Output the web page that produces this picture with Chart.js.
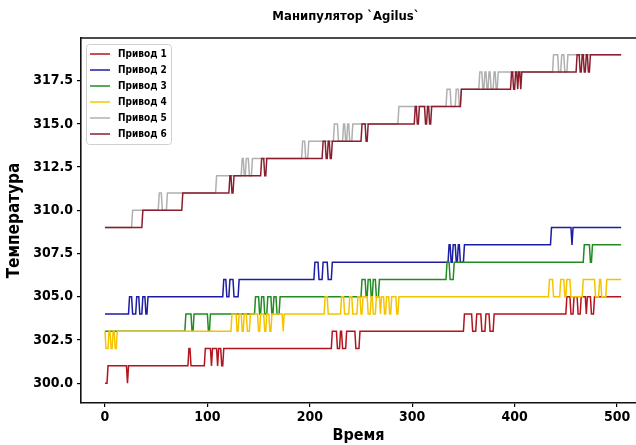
<!DOCTYPE html>
<html>
<head>
<meta charset="utf-8">
<script src="https://cdn.jsdelivr.net/npm/chart.js@4.4.1/dist/chart.umd.min.js"></script>
<style>
  html, body { margin: 0; padding: 0; background: #fff; }
  #chart_wrap { width: 636px; height: 445px; }
</style>
</head>
<body>
<div id="chart_wrap"><canvas id="driveChart" width="636" height="445"></canvas></div>
<script>
// step changes: [time, temperature level from that time]
const drive1Steps = [[0,300],[3,301],[22,300],[23,301],[82,302],[84,301],[98,302],[104,301],[105,302],[110,301],[111,302],[114,301],[116,302],[222,303],[227,302],[230,303],[232,302],[236,303],[245,302],[249,303],[351,304],[359,303],[363,304],[368,303],[372,304],[376,303],[380,304],[451,305],[455,304],[458,305],[462,304],[465,305],[470,304],[471,305],[475,304],[478,305]];
const drive2Steps = [[0,304],[24,305],[27,304],[31,305],[34,304],[37,305],[40,304],[42,305],[116,306],[119,305],[122,306],[126,305],[131,306],[205,307],[209,306],[213,307],[218,306],[222,307],[336,308],[338,307],[340,308],[343,307],[345,308],[347,307],[351,308],[436,309],[456,308],[457,309]];
const drive3Steps = [[0,303],[79,304],[85,303],[87,304],[101,303],[103,304],[147,305],[151,304],[153,305],[156,304],[159,305],[163,304],[165,305],[168,304],[171,305],[251,306],[255,305],[257,306],[260,305],[262,306],[265,305],[268,306],[334,307],[337,306],[341,307],[468,308],[474,307],[476,308]];
const drive4Steps = [[0,303],[1,302],[4,303],[6,302],[8,303],[10,302],[12,303],[124,304],[129,303],[131,304],[134,303],[136,304],[139,303],[142,304],[150,303],[152,304],[156,303],[158,304],[161,303],[163,304],[174,303],[175,304],[215,305],[218,304],[231,305],[234,304],[239,305],[242,304],[247,305],[250,304],[252,305],[257,304],[260,305],[262,304],[265,305],[269,304],[270,305],[273,304],[275,305],[278,304],[280,305],[285,304],[287,305],[434,306],[438,305],[445,306],[449,305],[451,306],[455,305],[467,306],[479,305],[483,306],[485,305],[490,306]];
const drive5Steps = [[0,309],[27,310],[53,311],[56,310],[61,311],[109,312],[134,313],[136,312],[138,313],[141,312],[144,313],[193,314],[196,313],[199,314],[224,315],[228,314],[233,315],[235,314],[237,315],[239,314],[242,315],[287,316],[334,317],[338,316],[343,317],[346,316],[348,317],[366,318],[369,317],[371,318],[373,317],[375,318],[377,317],[380,318],[382,317],[384,318],[438,319],[443,318],[446,319],[449,318],[452,319]];
const drive6Steps = [[0,309],[37,310],[76,311],[122,312],[124,311],[126,312],[153,313],[156,312],[158,313],[213,314],[216,313],[218,314],[220,313],[222,314],[251,315],[255,314],[257,315],[303,316],[305,315],[307,316],[313,315],[315,316],[317,315],[319,316],[348,317],[397,318],[399,317],[401,318],[403,317],[404,318],[406,317],[407,318],[461,319],[464,318],[466,319],[468,318],[470,319],[472,318],[474,319]];

const seriesNames = ["Привод 1", "Привод 2", "Привод 3", "Привод 4", "Привод 5", "Привод 6"];
const seriesColors = ["#b3141e", "#1c1ca4", "#228b22", "#f5c400", "#b0b0b0", "#8b1e2e"];
const lastTime = 504;

const xTicks = [0, 100, 200, 300, 400, 500];
const yTicks = [300, 302.5, 305, 307.5, 310, 312.5, 315, 317.5];

const FONT = "'DejaVu Sans Condensed', 'DejaVu Sans', sans-serif";

const DriveChart = {
  instance: null,

  init: function () {
    const allSteps = [drive1Steps, drive2Steps, drive3Steps, drive4Steps, drive5Steps, drive6Steps];
    const datasets = allSteps.map(function (steps, i) {
      return {
        label: seriesNames[i],
        data: DriveChart.expandSteps(steps),
        borderColor: seriesColors[i],
        borderWidth: 1.5,
        pointRadius: 0,
        fill: false,
        tension: 0,
        order: allSteps.length - 1 - i, // later drives on top, like the original
      };
    });

    this.instance = new Chart(document.getElementById("driveChart"), {
      type: "line",
      data: { datasets: datasets },
      options: {
        responsive: false,
        animation: false,
        devicePixelRatio: 1,
        layout: { padding: { top: 38, left: 0, right: 0, bottom: 0 } },
        plugins: {
          legend: { display: false },
          tooltip: { enabled: false },
        },
        scales: {
          x: {
            type: "linear",
            min: -23.4,
            max: 518.5,
            afterBuildTicks: function (axis) {
              axis.ticks = xTicks.map(function (v) { return { value: v }; });
            },
            afterFit: function (scale) { scale.height = 42; },
            ticks: {
              color: "#000",
              padding: 2,
              maxRotation: 0,
              font: { family: FONT, size: 14, weight: "bold" },
              callback: function (v) { return String(v); },
            },
            grid: { display: true, drawOnChartArea: false, drawTicks: true, tickLength: 4, color: "#000", lineWidth: 1.2 },
            border: { display: true, color: "#111", width: 1.6 },
            title: {
              display: true,
              text: "Время",
              color: "#000",
              padding: { top: 0, bottom: 0 },
              font: { family: FONT, size: 16, weight: "bold" },
            },
          },
          y: {
            type: "linear",
            min: 298.85,
            max: 319.97,
            afterBuildTicks: function (axis) {
              axis.ticks = yTicks.map(function (v) { return { value: v }; });
            },
            afterFit: function (scale) { scale.width = 81; },
            ticks: {
              color: "#000",
              padding: 4,
              font: { family: FONT, size: 14, weight: "bold" },
              callback: function (v) { return Number(v).toFixed(1); },
            },
            grid: { display: true, drawOnChartArea: false, drawTicks: true, tickLength: 4, color: "#000", lineWidth: 1.2 },
            border: { display: true, color: "#111", width: 1.6 },
            title: {
              display: true,
              text: "Температура",
              color: "#000",
              padding: { top: 4, bottom: 0 },
              font: { family: FONT, size: 17, weight: "bold" },
            },
          },
        },
      },
      plugins: [this.framePlugin],
    });
  },

  // turn the step list into sampled points, one time unit per transition
  expandSteps: function (steps) {
    const pts = [];
    steps.forEach(function (s, i) {
      if (i > 0) pts.push({ x: s[0] - 1, y: steps[i - 1][1] });
      pts.push({ x: s[0], y: s[1] });
    });
    pts.push({ x: lastTime, y: steps[steps.length - 1][1] });
    return pts;
  },

  framePlugin: {
    id: "frameTitleLegend",
    afterDraw: function (chart) {
      const ctx = chart.ctx;
      const area = chart.chartArea;
      ctx.save();

      // top spine
      ctx.strokeStyle = "#111";
      ctx.lineWidth = 1.6;
      ctx.beginPath();
      ctx.moveTo(area.left, area.top);
      ctx.lineTo(area.right, area.top);
      ctx.stroke();

      // title
      ctx.fillStyle = "#000";
      ctx.font = "bold 13px " + FONT;
      ctx.textAlign = "center";
      ctx.textBaseline = "middle";
      ctx.fillText("Манипулятор `Agilus`", 346, 17);

      // legend box
      const bx = 86, by = 44, bw = 85, bh = 100;
      ctx.fillStyle = "rgba(255,255,255,0.85)";
      ctx.strokeStyle = "#d0d0d0";
      ctx.lineWidth = 1;
      ctx.beginPath();
      ctx.roundRect(bx + 0.5, by + 0.5, bw, bh, 3);
      ctx.fill();
      ctx.stroke();

      ctx.font = "bold 10px " + FONT;
      ctx.textAlign = "left";
      chart.data.datasets.forEach(function (ds, i) {
        const y = 54 + i * 16;
        ctx.strokeStyle = ds.borderColor;
        ctx.lineWidth = 1.5;
        ctx.beginPath();
        ctx.moveTo(90, y);
        ctx.lineTo(110, y);
        ctx.stroke();
        ctx.fillStyle = "#000";
        ctx.fillText(ds.label, 118, y);
      });
      ctx.restore();
    },
  },
};

DriveChart.init();
</script>
</body>
</html>
